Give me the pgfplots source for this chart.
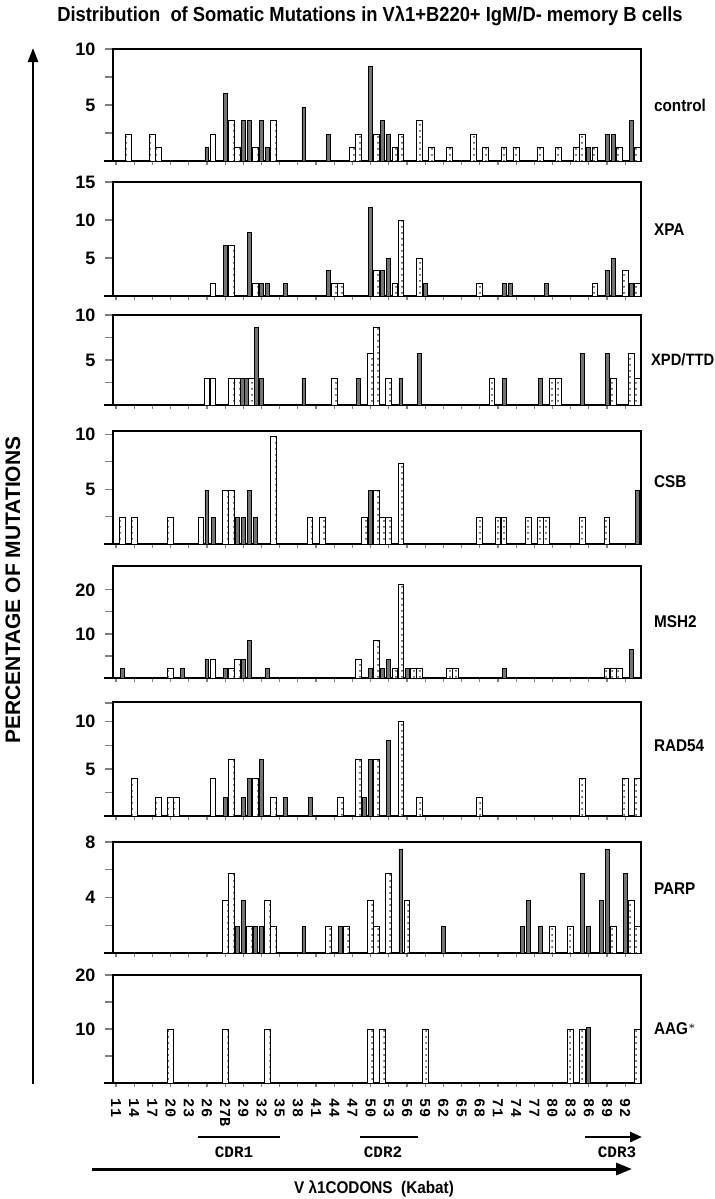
\documentclass[border=0pt]{standalone}
\usepackage{fontspec}
\setmainfont{Liberation Sans}
\newfontfamily\narrowsans[FakeStretch=0.9]{Liberation Sans}
\newfontfamily\monofont{Liberation Mono}
\usepackage{pgfplots}
\pgfplotsset{compat=1.18}
\usetikzlibrary{patterns,arrows.meta}

\pgfplotsset{
  panel/.style={
    scale only axis, width=264pt, height=#1,
    anchor=south west,
    xmin=-0.5, xmax=86.6, ymin=0,
    clip=false,
    axis line style={line width=0.7pt},
    tick pos=left, tick align=outside,
    xtick={0,3,...,84}, xticklabels={},
    xtick style={line width=0.6pt, /pgfplots/major tick length=2pt},
    ytick style={line width=0.6pt, /pgfplots/major tick length=4pt},
    yticklabel style={font=\bfseries\fontsize{9}{9}\selectfont, xshift=-1pt},
  },
  lightbar/.style={ybar, bar shift=0pt, bar width=0.95, draw=black, line width=0.45pt, fill=white, postaction={pattern=dots, pattern color=black!75}},
  darkbar/.style={ybar, bar shift=0pt, bar width=0.65, draw=black, line width=0.45pt, fill=black!55},
}
\tikzset{plabel/.style={anchor=west, font=\narrowsans\bfseries\fontsize{8.5}{9}\selectfont, xshift=3pt}}

\begin{document}
\begin{tikzpicture}
\useasboundingbox (0,0) rectangle (357.5pt,-599.5pt);

% title
\node[font=\narrowsans\bfseries\fontsize{10.2}{11}\selectfont] at (185pt,-8pt)
  {Distribution\ \ of Somatic Mutations in Vλ1+B220+ IgM/D- memory B cells};

% control
\begin{axis}[panel=56pt, at={(56.5pt,-80.5pt)}, ymax=10,
  ytick={2.5,5,7.5,10}, yticklabels={,5,,10}]
\addplot[lightbar] coordinates {(2,2.4)(6,2.4)(7,1.2)(16,2.4)(19,3.6)(20,1.2)(23,1.2)(26,3.6)(39,1.2)(40,2.4)(43,2.4)(46,1.2)(47,2.4)(50,3.6)(52,1.2)(55,1.2)(59,2.4)(61,1.2)(64,1.2)(66,1.2)(70,1.2)(73,1.2)(76,1.2)(77,2.4)(79,1.2)(83,1.2)(86,1.2)};
\addplot[darkbar] coordinates {(15,1.2)(18,6.0)(21,3.6)(22,3.6)(24,3.6)(25,1.2)(31,4.8)(35,2.4)(42,8.4)(44,3.6)(45,2.4)(78,1.2)(81,2.4)(82,2.4)(85,3.6)};
\draw[line width=0.7pt] (rel axis cs:0,0) -- ++(-6pt,0);
\node[plabel] at (rel axis cs:1,0.5) {control};
\end{axis}

% XPA
\begin{axis}[panel=57pt, at={(56.5pt,-148pt)}, ymax=15,
  ytick={5,10,15}, yticklabels={5,10,15}]
\addplot[lightbar] coordinates {(16,1.7)(19,6.7)(23,1.7)(36,1.7)(37,1.7)(43,3.3)(46,1.7)(47,10)(50,5)(60,1.7)(79,1.7)(84,3.3)(86,1.7)};
\addplot[darkbar] coordinates {(18,6.7)(22,8.3)(24,1.7)(25,1.7)(28,1.7)(35,3.3)(42,11.7)(44,3.3)(45,5)(51,1.7)(64,1.7)(65,1.7)(71,1.7)(81,3.3)(82,5)(85,1.7)};
\draw[line width=0.7pt] (rel axis cs:0,0) -- ++(-6pt,0);
\node[plabel] at (rel axis cs:1,0.58) {XPA};
\end{axis}

% XPD/TTD
\begin{axis}[panel=45pt, at={(56.5pt,-202.5pt)}, ymax=10,
  ytick={2.5,5,7.5,10}, yticklabels={,5,,10}]
\addplot[lightbar] coordinates {(15,2.9)(16,2.9)(19,2.9)(20,2.9)(22.3,2.9)(36,2.9)(42,5.7)(43,8.6)(45,2.9)(62,2.9)(72,2.9)(73,2.9)(82,2.9)(85,5.7)(86,2.9)};
\addplot[darkbar] coordinates {(20.8,2.9)(21.5,2.9)(23.2,8.6)(24,2.9)(31,2.9)(40,2.9)(47,2.9)(50,5.7)(64,2.9)(70,2.9)(77,5.7)(81,5.7)};
\draw[line width=0.7pt] (rel axis cs:0,0) -- ++(-6pt,0);
\node[plabel, xshift=-1.5pt, font=\narrowsans\bfseries\fontsize{8.2}{9}\selectfont] at (rel axis cs:1,0.5) {XPD/TTD};
\end{axis}

% CSB
\begin{axis}[panel=56.5pt, at={(56.5pt,-272pt)}, ymax=10.3,
  ytick={2.5,5,7.5,10}, yticklabels={,5,,10}]
\addplot[lightbar] coordinates {(1,2.4)(3,2.4)(9,2.4)(14,2.4)(18,4.9)(19,4.9)(26,9.8)(32,2.4)(34,2.4)(41,2.4)(43,4.9)(44,2.4)(45,2.4)(47,7.3)(60,2.4)(63,2.4)(64,2.4)(68,2.4)(70,2.4)(71,2.4)(77,2.4)(81,2.4)};
\addplot[darkbar] coordinates {(15,4.9)(16,2.4)(20,2.4)(21,2.4)(22,4.9)(23,2.4)(42,4.9)(86,4.9)};
\draw[line width=0.7pt] (rel axis cs:0,0) -- ++(-6pt,0);
\node[plabel] at (rel axis cs:1,0.55) {CSB};
\end{axis}

% MSH2
\begin{axis}[panel=56pt, at={(56.5pt,-339pt)}, ymax=25.4,
  ytick={5,10,15,20}, yticklabels={,10,,20}]
\addplot[lightbar] coordinates {(9,2.1)(16,4.3)(19,2.1)(20,4.3)(40,4.3)(43,8.5)(46,2.1)(47,21.3)(49,2.1)(50,2.1)(55,2.1)(56,2.1)(81,2.1)(82,2.1)(83,2.1)};
\addplot[darkbar] coordinates {(1,2.1)(11,2.1)(15,4.3)(18,2.1)(21,4.3)(22,8.5)(25,2.1)(42,2.1)(44,2.1)(45,4.3)(48,2.1)(64,2.1)(85,6.4)};
\draw[line width=0.7pt] (rel axis cs:0,0) -- ++(-6pt,0);
\node[plabel] at (rel axis cs:1,0.5) {MSH2};
\end{axis}

% RAD54
\begin{axis}[panel=57pt, at={(56.5pt,-408pt)}, ymax=12.1,
  ytick={2.5,5,7.5,10,12}, yticklabels={,5,,10,}]
\addplot[lightbar] coordinates {(3,4)(7,2)(9,2)(10,2)(16,4)(19,6)(23,4)(26,2)(37,2)(40,6)(43,6)(47,10)(50,2)(60,2)(77,4)(84,4)(86,4)};
\addplot[darkbar] coordinates {(18,2)(21,2)(22,4)(24,6)(28,2)(32,2)(41,2)(42,6)(45,8)};
\draw[line width=0.7pt] (rel axis cs:0,0) -- ++(-6pt,0);
\node[plabel] at (rel axis cs:1,0.62) {RAD54};
\end{axis}

% PARP
\begin{axis}[panel=55.5pt, at={(56.5pt,-476.5pt)}, ymax=8,
  ytick={2,4,6,8}, yticklabels={,4,,8}]
\addplot[lightbar] coordinates {(18,3.8)(19,5.7)(22,1.9)(25,3.8)(26,1.9)(35,1.9)(38,1.9)(42,3.8)(43,1.9)(45,5.7)(48,3.8)(72,1.9)(75,1.9)(82,1.9)(85,3.8)(86,1.9)};
\addplot[darkbar] coordinates {(20,1.9)(21,3.8)(23,1.9)(24,1.9)(31,1.9)(37,1.9)(47,7.5)(54,1.9)(67,1.9)(68,3.8)(70,1.9)(77,5.7)(78,1.9)(80,3.8)(81,7.5)(84,5.7)};
\draw[line width=0.7pt] (rel axis cs:0,0) -- ++(-6pt,0);
\node[plabel] at (rel axis cs:1,0.58) {PARP};
\end{axis}

% AAG*
\begin{axis}[panel=54pt, at={(56.5pt,-541.5pt)}, ymax=20,
  ytick={5,10,15,20}, yticklabels={,10,,20},
  xticklabels={11,14,17,20,23,26,27B,29,32,35,38,41,44,47,50,53,56,59,62,65,68,71,74,77,80,83,86,89,92},
  xticklabel shift=3pt,
  xticklabel style={rotate=-90, anchor=west, font=\monofont\bfseries\fontsize{7.6}{8}\selectfont, inner xsep=0.5pt}]
\addplot[lightbar] coordinates {(9,10)(18,10)(25,10)(42,10)(44,10)(51,10)(75,10)(77,10)(86,10)};
\addplot[darkbar] coordinates {(78,10.2)};
\draw[line width=0.7pt] (rel axis cs:0,0) -- ++(-6pt,0);
\node[plabel] at (rel axis cs:1,0.5) {AAG$^{*}$};
\end{axis}

% y arrow and label
\draw[line width=1.3pt, -{Triangle[length=7pt,width=5pt]}] (16.5pt,-542pt) -- (16.5pt,-24pt);
\node[rotate=90, font=\bfseries\fontsize{10.5}{11}\selectfont] at (6.5pt,-295pt) {PERCENTAGE OF MUTATIONS};

% CDR marks
\draw[line width=1.3pt] (99pt,-568.5pt) -- (140pt,-568.5pt);
\node[font=\monofont\bfseries\fontsize{8}{8}\selectfont] at (117pt,-576pt) {CDR1};
\draw[line width=1.3pt] (180pt,-568.5pt) -- (209pt,-568.5pt);
\node[font=\monofont\bfseries\fontsize{8}{8}\selectfont] at (191.5pt,-576pt) {CDR2};
\draw[line width=1.3pt, -{Triangle[length=6pt,width=5pt]}] (292.5pt,-568.5pt) -- (321pt,-568.5pt);
\node[font=\monofont\bfseries\fontsize{8}{8}\selectfont] at (308.5pt,-576pt) {CDR3};

% x arrow and label
\draw[line width=1.5pt, -{Triangle[length=8pt,width=6pt]}] (46pt,-584.5pt) -- (316pt,-584.5pt);
\node[font=\narrowsans\bfseries\fontsize{8.5}{9}\selectfont] at (187pt,-594.5pt) {V λ1CODONS\ \ (Kabat)};
\end{tikzpicture}
\end{document}
